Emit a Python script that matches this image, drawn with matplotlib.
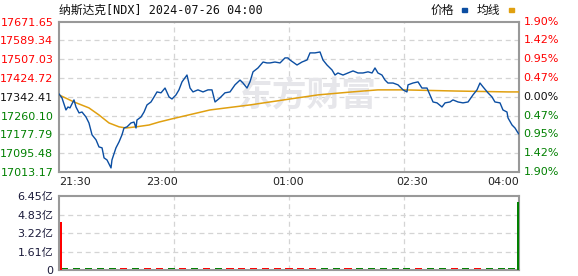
import numpy as np
import matplotlib
matplotlib.use("Agg")
import matplotlib.pyplot as plt
from matplotlib.patches import Rectangle
from matplotlib.transforms import blended_transform_factory

plt.rcParams['font.family'] = ['DejaVu Sans', 'Noto Sans CJK SC']

# minutes since 21:30 (Beijing time) -> NDX price
price_t = [0, 2.5, 5.9, 7.6, 9.3, 12.7, 14.4, 17.0, 19.5, 22.9, 25.4, 28.0, 31.4, 33.9,
           36.5, 38.2, 40.7, 44.1, 44.9, 48.3, 50.9, 53.4, 55.1, 57.7, 61.0, 63.6, 65.3,
           66.1, 69.5, 72.1, 74.6, 78.0, 80.6, 83.1, 86.5, 89.9, 93.3, 95.8, 99.2, 101.7,
           104.3, 108.5, 111.1, 113.6, 117.8, 122.1, 126.3, 129.7, 132.3, 136.5, 140.7,
           145.0, 149.2, 153.5, 156.0, 159.4, 161.9, 164.5, 168.7, 173.0, 176.3, 178.9,
           183.1, 187.4, 191.6, 194.1, 195.8, 201.8, 206.0, 210.3, 212.8, 217.0, 221.3,
           223.8, 227.2, 231.5, 234.0, 236.5, 240.8, 245.0, 249.3, 253.5, 257.7, 262.0,
           265.4, 267.9, 270.4, 273.8, 276.4, 278.9, 283.2, 287.4, 291.7, 295.0, 295.9,
           300.1, 304.4, 307.7, 312.0, 314.5, 317.1, 320.5, 324.7, 327.3, 331.5, 334.0,
           338.3, 342.5, 346.8, 351.0, 354.4, 356.9, 359.5, 363.7, 367.1, 369.6, 373.9,
           376.4, 379.8, 380.7, 384.1, 386.6, 389.2, 390]
price_v = [17355, 17338, 17285, 17298, 17294, 17329, 17298, 17272, 17276, 17254, 17228,
           17176, 17154, 17123, 17119, 17075, 17066, 17031, 17066, 17119, 17145, 17176,
           17206, 17211, 17228, 17232, 17206, 17241, 17254, 17276, 17307, 17320, 17342,
           17364, 17360, 17381, 17342, 17333, 17351, 17373, 17408, 17438, 17381, 17364,
           17373, 17364, 17373, 17373, 17320, 17338, 17360, 17364, 17395, 17416, 17403,
           17381, 17408, 17452, 17469, 17495, 17491, 17491, 17495, 17491, 17513, 17513,
           17504, 17482, 17495, 17504, 17535, 17535, 17539, 17504, 17482, 17460, 17438,
           17447, 17438, 17447, 17456, 17447, 17447, 17452, 17447, 17469, 17447, 17438,
           17416, 17403, 17403, 17395, 17373, 17364, 17395, 17403, 17408, 17381, 17381,
           17351, 17320, 17316, 17298, 17316, 17320, 17329, 17320, 17316, 17320, 17351,
           17373, 17403, 17386, 17360, 17342, 17320, 17316, 17285, 17276, 17250, 17219,
           17206, 17184, 17180]

avg_t = [0, 12.7, 25.4, 33.9, 42.4, 50.9, 56.8, 65.3, 76.3, 84.8, 95.8, 128.0, 161.9,
         195.8, 219.6, 248.4, 270.4, 291.7, 335.7, 380.7, 390]
avg_v = [17351, 17320, 17294, 17263, 17228, 17211, 17206, 17211, 17219, 17232, 17246,
         17285, 17307, 17333, 17351, 17364, 17373, 17373, 17368, 17364, 17364]

prev_close = 17342.41
price_ticks = [17013.17, 17095.48, 17177.79, 17260.10, 17342.41, 17424.72, 17507.03,
               17589.34, 17671.65]
pct_labels = ['1.90%', '1.42%', '0.95%', '0.47%', '0.00%', '0.47%', '0.95%', '1.42%', '1.90%']

time_labels = ['21:30', '23:00', '01:00', '02:30', '04:00']
time_label_pos = [0, 87.3, 194.1, 299.3, 390]

# volume in 亿
vol_open_t, vol_open = 1.8, 4.18
vol_close_t, vol_close = 389.0, 5.93
small_vol_t = [5, 15, 25, 35, 45, 55, 65, 75, 85, 95, 105, 115, 125, 135, 145, 155, 165,
               175, 185, 195, 205, 215, 225, 235, 245, 255, 265, 275, 285, 295, 305, 315,
               325, 335, 345, 355, 365, 375, 384]
small_vol = [0.17, 0.16, 0.17, 0.16, 0.17, 0.16, 0.16, 0.16, 0.17, 0.16, 0.16, 0.16, 0.16,
             0.17, 0.16, 0.16, 0.16, 0.16, 0.16, 0.16, 0.16, 0.16, 0.17, 0.16, 0.16, 0.16,
             0.16, 0.16, 0.16, 0.16, 0.16, 0.16, 0.16, 0.16, 0.16, 0.16, 0.16, 0.17, 0.17]
vol_ticks = [0, 1.61, 3.22, 4.83, 6.45]
vol_labels = ['0', '1.61亿', '3.22亿', '4.83亿', '6.45亿']

RED = '#ff0000'
GREEN = '#008000'
BLUE = '#0b4ea2'
GOLD = '#e0a010'
FRAME = '#999999'
GRID = '#d4d4d4'

W, H = 578, 276
fig = plt.figure(figsize=(W / 100, H / 100), dpi=100)
ax = fig.add_axes([59 / W, (H - 172) / H, 460 / W, 150.3 / H])
axv = fig.add_axes([59 / W, (H - 270) / H, 460 / W, 74 / H])

vgrid = [97.5, 195, 292.5]

# ---- price panel
ax.set_xlim(0, 390)
ax.set_ylim(price_ticks[0], price_ticks[-1])
for y in price_ticks[1:-1]:
    ax.axhline(y, color=GRID, lw=0.9, ls=(0, (4, 3)), zorder=1)
for x in vgrid:
    ax.axvline(x, color=GRID, lw=0.9, ls=(0, (4, 3)), zorder=1)

ax.text(211, 17350, '东方财富', fontsize=25, fontweight='bold', color='#e6e6ea',
        family='Noto Sans CJK SC', ha='center', va='center', zorder=1)

ax.plot(avg_t, avg_v, color=GOLD, lw=1.1, zorder=3)
ax.plot(price_t, price_v, color=BLUE, lw=1.0, zorder=4)

ax.set_yticks(price_ticks)
ax.set_yticklabels([f'{v:.2f}' for v in price_ticks], fontsize=8)
for lab, v in zip(ax.get_yticklabels(), price_ticks):
    lab.set_color(RED if v > prev_close + 1 else (GREEN if v < prev_close - 1 else '#111111'))
ax.tick_params(axis='y', length=0, pad=4)
ax.set_xticks([])

tr = blended_transform_factory(ax.transAxes, ax.transData)
for v, s in zip(price_ticks, pct_labels[::-1]):
    c = RED if v > prev_close + 1 else (GREEN if v < prev_close - 1 else '#111111')
    ax.text(1.01, v, s, transform=tr, fontsize=8, color=c, ha='left', va='center')

trx = blended_transform_factory(ax.transData, ax.transAxes)
for x, s in zip(time_label_pos, time_labels):
    ha = 'left' if x == 0 else ('right' if x == 390 else 'center')
    ax.text(x, -0.035, s, transform=trx, fontsize=8, color='#222222', ha=ha, va='top')

for sp in ax.spines.values():
    sp.set_color(FRAME)
    sp.set_linewidth(1.5)

# ---- volume panel
axv.set_xlim(0, 390)
axv.set_ylim(0, 6.45)
for y in vol_ticks[1:-1]:
    axv.axhline(y, color=GRID, lw=0.9, ls=(0, (4, 3)), zorder=1)
for x in vgrid:
    axv.axvline(x, color=GRID, lw=0.9, ls=(0, (4, 3)), zorder=1)

p_now = np.interp(small_vol_t, price_t, price_v)
p_before = np.interp(np.array(small_vol_t) - 5, price_t, price_v)
small_colors = [RED if a >= b else GREEN for a, b in zip(p_now, p_before)]
axv.bar(small_vol_t, small_vol, width=6, color=small_colors, zorder=2)
axv.bar([vol_open_t], [vol_open], width=1.4, color=RED, zorder=3)
axv.bar([vol_close_t], [vol_close], width=1.6, color=GREEN, zorder=3)

axv.set_yticks(vol_ticks)
axv.set_yticklabels(vol_labels, fontsize=8, color='#1a1a3a')
axv.tick_params(axis='y', length=0, pad=4)
axv.set_xticks([])
for sp in axv.spines.values():
    sp.set_color(FRAME)
    sp.set_linewidth(1.5)

# ---- header
fig.text(59 / W, 1 - 10 / H, '纳斯达克[NDX] 2024-07-26 04:00', fontsize=8.5,
         family=['DejaVu Sans Mono', 'Noto Sans CJK SC'], color='#111111',
         ha='left', va='center')
fig.text(431 / W, 1 - 10 / H, '价格', fontsize=8.5, family='Noto Sans CJK SC',
         color='#111111', ha='left', va='center')
fig.add_artist(Rectangle((462 / W, 1 - 12 / H), 5 / W, 4 / H, transform=fig.transFigure,
                         color=BLUE))
fig.text(477 / W, 1 - 10 / H, '均线', fontsize=8.5, family='Noto Sans CJK SC',
         color='#111111', ha='left', va='center')
fig.add_artist(Rectangle((509 / W, 1 - 12 / H), 5 / W, 4 / H, transform=fig.transFigure,
                         color=GOLD))

fig.savefig('out.png', dpi=100)
